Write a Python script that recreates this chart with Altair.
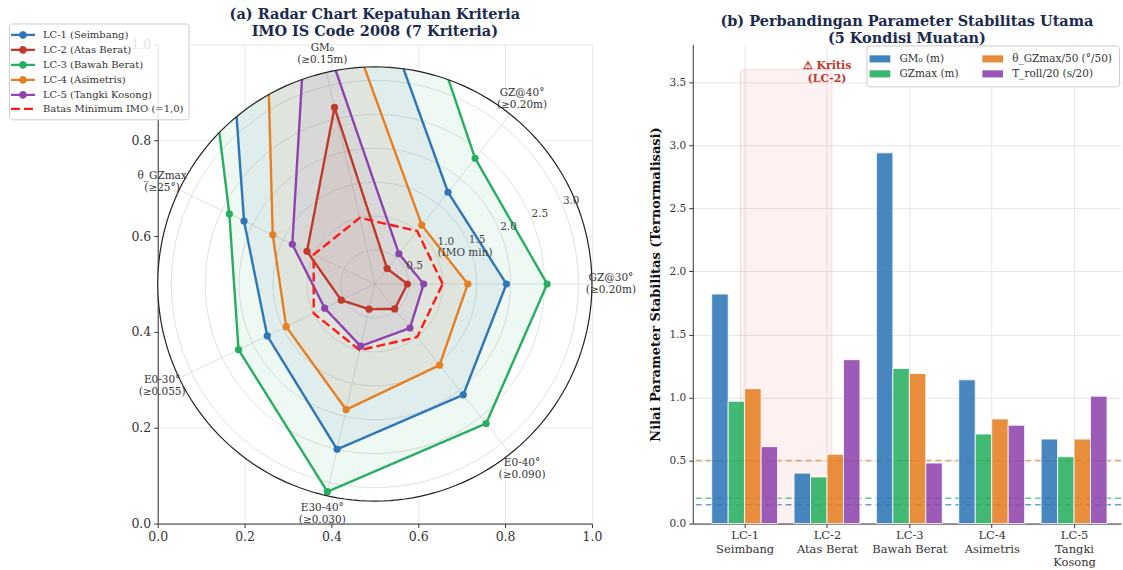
import math
import json
import altair as alt
import pandas as pd

# ------------------------------------------------------------------
# DATA
# ------------------------------------------------------------------
# (a) radar: value / IMO criterion (1.0 = minimum), axes in polar order
radar_axes = ["GZ@30°\n(≥0.20m)", "GZ@40°\n(≥0.20m)", "GM₀\n(≥0.15m)", "θ_GZmax\n(≥25°)",
              "E0-30°\n(≥0.055)", "E30-40°\n(≥0.030)", "E0-40°\n(≥0.090)"]
lc_names = ["LC-1 (Seimbang)", "LC-2 (Atas Berat)", "LC-3 (Bawah Berat)",
            "LC-4 (Asimetris)", "LC-5 (Tangki Kosong)"]
lc1_ratio = [1.94, 1.73, 12.13, 2.14, 1.76, 2.50, 2.09]
lc2_ratio = [0.48, 0.29, 2.67, 1.11, 0.55, 0.38, 0.47]
lc3_ratio = [2.54, 2.37, 19.60, 2.38, 2.23, 3.14, 2.63]
lc4_ratio = [1.37, 1.11, 7.60, 1.67, 1.45, 1.90, 1.53]
lc5_ratio = [0.72, 0.57, 4.47, 1.35, 0.82, 0.94, 0.83]
imo_name = "Batas Minimum IMO (=1,0)"
imo_ratio = [1.0, 1.0, 1.0, 1.0, 1.0, 1.0, 1.0]
r_ticks = [0.5, 1.0, 1.5, 2.0, 2.5, 3.0]
r_tick_labels = ["0.5", "1.0\n(IMO min)", "1.5", "2.0", "2.5", "3.0"]
r_limit = 3.2
cart_ticks = [0.0, 0.2, 0.4, 0.6, 0.8, 1.0]

# (b) bars
bar_groups = ["LC-1\nSeimbang", "LC-2\nAtas Berat", "LC-3\nBawah Berat", "LC-4\nAsimetris",
              "LC-5\nTangki\nKosong"]
bar_params = ["GM₀ (m)", "GZmax (m)", "θ_GZmax/50 (°/50)", "T_roll/20 (s/20)"]
gm0_m = [1.82, 0.40, 2.94, 1.14, 0.67]
gzmax_m = [0.97, 0.37, 1.23, 0.71, 0.53]
theta_gzmax_50 = [1.07, 0.55, 1.19, 0.83, 0.67]
t_roll_20 = [0.61, 1.30, 0.48, 0.78, 1.01]
criteria_params = ["GM₀ (m)", "GZmax (m)", "θ_GZmax/50 (°/50)"]
criteria_values = [0.15, 0.20, 0.50]
y_ticks_b = [0.0, 0.5, 1.0, 1.5, 2.0, 2.5, 3.0, 3.5]
critical_group = 1
critical_text = "⚠ Kritis\n(LC-2)"
critical_span = [-0.05, 1.06]
critical_top = 3.60
critical_text_y = 3.575

# ------------------------------------------------------------------
# STYLE / LAYOUT
# ------------------------------------------------------------------
FONT = "DejaVu Serif"
TITLE_COLOR = "#1B2A4E"
TXT = "#333333"
LC_COLORS = ["#2E75B6", "#C0392B", "#27AE60", "#E67E22", "#8E44AD"]
IMO_COLOR = "#FF1A1A"
PARAM_COLORS = ["#2E75B6", "#27AE60", "#E67E22", "#8E44AD"]
GRID = "#e6e6e6"
POLAR_GRID = "#d9d9d9"

W1, H1 = 435, 480
W2, H2 = 429, 480
ASPECT = W1 / H1
N_AX = len(radar_axes)
TAU = 2 * math.pi
BAR_W = 0.2
CIRCLE_STEPS = 180


def axis_angle(k):
    return TAU * k / N_AX


def to_plot(px, py):
    return 0.5 + 0.5 * px / r_limit, 0.5 + 0.5 * ASPECT * py / r_limit


def same(p, q, eps=1e-6):
    return abs(p[0] - q[0]) < eps and abs(p[1] - q[1]) < eps


def clip_pieces(values):
    verts = [(v * math.cos(axis_angle(k)), v * math.sin(axis_angle(k))) for k, v in enumerate(values)]
    verts.append(verts[0])
    pieces, cur = [], []
    for i in range(N_AX):
        (ax_, ay_), (bx, by) = verts[i], verts[i + 1]
        dx, dy = bx - ax_, by - ay_
        a = dx * dx + dy * dy
        b = 2 * (ax_ * dx + ay_ * dy)
        c = ax_ * ax_ + ay_ * ay_ - r_limit ** 2
        disc = b * b - 4 * a * c
        lo, hi = 1.0, 0.0
        if disc > 0:
            s = math.sqrt(disc)
            lo = max(0.0, (-b - s) / (2 * a))
            hi = min(1.0, (-b + s) / (2 * a))
        if lo >= hi:
            if cur:
                pieces.append(cur)
                cur = []
            continue
        if lo > 1e-9 or not cur:
            if cur:
                pieces.append(cur)
            cur = [(ax_ + lo * dx, ay_ + lo * dy)]
        cur.append((ax_ + hi * dx, ay_ + hi * dy))
        if hi < 1 - 1e-9:
            pieces.append(cur)
            cur = []
    if cur:
        pieces.append(cur)
    if len(pieces) > 1 and same(pieces[-1][-1], pieces[0][0]):
        pieces[0] = pieces[-1] + pieces[0][1:]
        pieces.pop()
    return pieces


def fill_outline(pieces):
    pts = []
    n = len(pieces)
    for i, piece in enumerate(pieces):
        pts.extend(piece)
        nxt = pieces[(i + 1) % n]
        if not same(piece[-1], nxt[0]):
            a0 = math.atan2(piece[-1][1], piece[-1][0])
            a1 = math.atan2(nxt[0][1], nxt[0][0])
            while a1 <= a0:
                a1 += TAU
            steps = 48
            for s in range(1, steps):
                t = a0 + (a1 - a0) * s / steps
                pts.append((r_limit * math.cos(t), r_limit * math.sin(t)))
    return pts


def circle_rows(r, key):
    rows = []
    for s in range(CIRCLE_STEPS + 1):
        t = TAU * s / CIRCLE_STEPS
        x, y = to_plot(r * math.cos(t), r * math.sin(t))
        rows.append({"ring": key, "o": s, "x": x, "y": y})
    return rows


all_series = list(zip(lc_names, [lc1_ratio, lc2_ratio, lc3_ratio, lc4_ratio, lc5_ratio]))

fill_rows, line_rows, pt_rows = [], [], []
for name, vals in all_series:
    pcs = clip_pieces(vals)
    for o, (px, py) in enumerate(fill_outline(pcs)):
        x, y = to_plot(px, py)
        fill_rows.append({"series": name, "o": o, "x": x, "y": y})
    for pi, pc in enumerate(pcs):
        for o, (px, py) in enumerate(pc):
            x, y = to_plot(px, py)
            line_rows.append({"series": name, "seg": f"{name}-{pi}", "o": o, "x": x, "y": y})
    for k, v in enumerate(vals):
        if v <= r_limit:
            x, y = to_plot(v * math.cos(axis_angle(k)), v * math.sin(axis_angle(k)))
            pt_rows.append({"series": name, "x": x, "y": y})

for pi, pc in enumerate(clip_pieces(imo_ratio)):
    for o, (px, py) in enumerate(pc):
        x, y = to_plot(px, py)
        line_rows.append({"series": imo_name, "seg": f"imo-{pi}", "o": o, "x": x, "y": y})

fill_df = pd.DataFrame(fill_rows)
line_df = pd.DataFrame(line_rows)
pt_df = pd.DataFrame(pt_rows)

ring_rows = []
for r in r_ticks:
    ring_rows += circle_rows(r, str(r))
ring_df = pd.DataFrame(ring_rows)
edge_df = pd.DataFrame(circle_rows(r_limit, "edge"))

spoke_rows = []
for k in range(N_AX):
    x0, y0 = to_plot(0, 0)
    x1, y1 = to_plot(r_limit * math.cos(axis_angle(k)), r_limit * math.sin(axis_angle(k)))
    spoke_rows.append({"x0": x0, "y0": y0, "x1": x1, "y1": y1})
spoke_df = pd.DataFrame(spoke_rows)

LABEL_R = 3.48
cat_rows = []
for k, lab in enumerate(radar_axes):
    x, y = to_plot(LABEL_R * math.cos(axis_angle(k)), LABEL_R * math.sin(axis_angle(k)))
    cat_rows.append({"label": lab, "x": x, "y": y})
cat_df = pd.DataFrame(cat_rows)

RLABEL_ANGLE = math.pi / 8
rl_rows = []
for r, lab in zip(r_ticks, r_tick_labels):
    x, y = to_plot(r * math.cos(RLABEL_ANGLE), r * math.sin(RLABEL_ANGLE))
    rl_rows.append({"label": lab, "x": x, "y": y, "lines": lab.count("\n") + 1})
rl_df = pd.DataFrame(rl_rows)

cx, cy = to_plot(0, 0)
key_df = pd.DataFrame({"series": lc_names + [imo_name], "x": cx, "y": cy})

# ------------------------------------------------------------------
# (a) RADAR
# ------------------------------------------------------------------
xs1 = alt.Scale(domain=[0, 1], nice=False, zero=False)
ys1 = alt.Scale(domain=[0, 1], nice=False, zero=False)

lc_domain = lc_names + [imo_name]
lc_range = LC_COLORS + [IMO_COLOR]
dash_range = [[1, 0]] * len(lc_names) + [[9, 4]]

LINE_PATH = "M-2.4,0L2.4,0"
LINE_DOT_PATH = ("M-2.4,0L2.4,0"
                 "M0.54,0A0.54,0.54,0,1,1,-0.54,0A0.54,0.54,0,1,1,0.54,0"
                 "M0.27,0A0.27,0.27,0,1,1,-0.27,0A0.27,0.27,0,1,1,0.27,0"
                 "M0.05,0A0.05,0.05,0,1,1,-0.05,0A0.05,0.05,0,1,1,0.05,0")
shape_range = [LINE_DOT_PATH] * len(lc_names) + [LINE_PATH]

legend_a = alt.Legend(
    title=None, orient="none", legendX=-149, legendY=-21,
    symbolType=LINE_DOT_PATH, symbolSize=100, symbolStrokeWidth=2.3, symbolOffset=2.5,
    symbolOpacity=1,
    labelFont=FONT, labelFontSize=10, labelColor=TXT, labelOffset=13.5, labelLimit=400,
    rowPadding=0, padding=5, fillColor="rgba(255,255,255,0.85)", strokeColor="#cccccc",
    cornerRadius=3,
)

cart_axis_x = alt.Axis(values=cart_ticks, format=".1f", title=None, grid=True, gridColor=GRID,
                       domainColor=TXT, tickColor=TXT, labelColor=TXT, labelFontSize=12.5,
                       tickSize=4, labelPadding=3, labelFlush=False)
cart_axis_y = alt.Axis(values=cart_ticks, format=".1f", title=None, grid=True, gridColor=GRID,
                       domainColor=TXT, tickColor=TXT, labelColor=TXT, labelFontSize=12.5,
                       tickSize=4, labelPadding=3, labelFlush=False)

disc = alt.Chart(edge_df).mark_line(fill="white", strokeOpacity=0).encode(
    x=alt.X("x:Q", scale=xs1, axis=cart_axis_x),
    y=alt.Y("y:Q", scale=ys1, axis=cart_axis_y),
    order="o:Q")

rings = alt.Chart(ring_df).mark_line(color=POLAR_GRID, strokeWidth=0.8).encode(
    x=alt.X("x:Q", scale=xs1), y=alt.Y("y:Q", scale=ys1), order="o:Q", detail="ring:N")

spokes = alt.Chart(spoke_df).mark_rule(color=POLAR_GRID, strokeWidth=0.8).encode(
    x=alt.X("x0:Q", scale=xs1), y=alt.Y("y0:Q", scale=ys1), x2="x1:Q", y2="y1:Q")

fill_scale = alt.Scale(domain=lc_names, range=LC_COLORS)

fills = alt.Chart(fill_df).mark_line(strokeOpacity=0, fillOpacity=0.08).encode(
    x=alt.X("x:Q", scale=xs1), y=alt.Y("y:Q", scale=ys1),
    order="o:Q", detail="series:N",
    fill=alt.Fill("series:N", scale=fill_scale, legend=None))

lines = alt.Chart(line_df).mark_line(strokeWidth=2.4).encode(
    x=alt.X("x:Q", scale=xs1), y=alt.Y("y:Q", scale=ys1),
    order="o:Q", detail="seg:N",
    color=alt.Color("series:N", scale=alt.Scale(domain=lc_domain, range=lc_range), legend=legend_a),
    strokeDash=alt.StrokeDash("series:N", scale=alt.Scale(domain=lc_domain, range=dash_range),
                              legend=legend_a))

# invisible carrier so that the legend shows line+marker for LC series and a plain dashed line for IMO
legend_key = alt.Chart(key_df).mark_point(opacity=0).encode(
    x=alt.X("x:Q", scale=xs1), y=alt.Y("y:Q", scale=ys1),
    color=alt.Color("series:N", scale=alt.Scale(domain=lc_domain, range=lc_range), legend=legend_a),
    shape=alt.Shape("series:N", scale=alt.Scale(domain=lc_domain, range=shape_range),
                    legend=legend_a))

points = alt.Chart(pt_df).mark_circle(size=52, opacity=1).encode(
    x=alt.X("x:Q", scale=xs1), y=alt.Y("y:Q", scale=ys1),
    fill=alt.Fill("series:N", scale=fill_scale, legend=None))

edge = alt.Chart(edge_df).mark_line(color="#222222", strokeWidth=1.2).encode(
    x=alt.X("x:Q", scale=xs1), y=alt.Y("y:Q", scale=ys1), order="o:Q")

rlabels1 = alt.Chart(rl_df).transform_filter("datum.lines == 1").mark_text(
    align="left", baseline="bottom", fontSize=10.5, color="#444444").encode(
    x=alt.X("x:Q", scale=xs1), y=alt.Y("y:Q", scale=ys1), text="label:N")

rlabels2 = alt.Chart(rl_df).transform_filter("datum.lines == 2").mark_text(
    align="left", baseline="bottom", fontSize=10.5, color="#444444", lineBreak="\n",
    lineHeight=11, dy=-11).encode(
    x=alt.X("x:Q", scale=xs1), y=alt.Y("y:Q", scale=ys1), text="label:N")

clabels = alt.Chart(cat_df).mark_text(align="center", baseline="middle", fontSize=10.5,
                                      color=TXT, lineBreak="\n", lineHeight=12, dy=-6).encode(
    x=alt.X("x:Q", scale=xs1), y=alt.Y("y:Q", scale=ys1), text="label:N")

left = alt.layer(disc, rings, spokes, fills, lines, legend_key, points, edge, rlabels1, rlabels2,
                 clabels).properties(
    width=W1, height=H1,
    title=alt.TitleParams(["(a) Radar Chart Kepatuhan Kriteria", "IMO IS Code 2008 (7 Kriteria)"],
                          fontSize=14.5, fontWeight="bold", color=TITLE_COLOR, anchor="middle",
                          frame="group", offset=-17, lineHeight=17),
)

# ------------------------------------------------------------------
# (b) BARS
# ------------------------------------------------------------------
param_values = [gm0_m, gzmax_m, theta_gzmax_50, t_roll_20]
bar_rows = []
for i in range(len(bar_groups)):
    for j, (p, vals) in enumerate(zip(bar_params, param_values)):
        c = i + (j - (len(bar_params) - 1) / 2) * BAR_W
        bar_rows.append({"param": p, "x0": c - BAR_W / 2, "x1": c + BAR_W / 2, "v": vals[i]})
bar_df = pd.DataFrame(bar_rows)
crit_df = pd.DataFrame({"param": criteria_params, "v": criteria_values})
span_df = pd.DataFrame({"x0": [critical_span[0]], "x1": [critical_span[1]],
                        "y0": [0.0], "y1": [critical_top]})
ktext_df = pd.DataFrame({"x": [critical_group], "y": [critical_text_y], "t": [critical_text]})

xs2 = alt.Scale(domain=[-0.63, 4.57], nice=False, zero=False)
ys2 = alt.Scale(domain=[0, 3.80], nice=False, zero=True)

RECT_PATH = "M-1.6,-0.55L1.6,-0.55L1.6,0.55L-1.6,0.55Z"
legend_b = alt.Legend(
    title=None, orient="none", legendX=174, legendY=1, columns=2, columnPadding=23,
    symbolType=RECT_PATH, symbolSize=169, symbolOffset=0, symbolStrokeWidth=0,
    symbolOpacity=0.9, labelFont=FONT, labelFontSize=10.5, labelColor=TXT, labelOffset=13,
    rowPadding=3, padding=7, fillColor="rgba(255,255,255,0.85)", strokeColor="#cccccc",
    cornerRadius=3, labelLimit=300)

label_expr = f"split({json.dumps(bar_groups)}[datum.value], '\\n')"

span = alt.Chart(span_df).mark_rect(fill="#E74C3C", fillOpacity=0.07, stroke="#E74C3C",
                                    strokeOpacity=0.18, strokeWidth=1, cornerRadius=3).encode(
    x=alt.X("x0:Q", scale=xs2), x2="x1:Q", y=alt.Y("y0:Q", scale=ys2), y2="y1:Q")

crit = alt.Chart(crit_df).mark_rule(strokeDash=[6, 4], strokeWidth=1.5, opacity=0.7).encode(
    y=alt.Y("v:Q", scale=ys2),
    stroke=alt.Stroke("param:N",
                      scale=alt.Scale(domain=criteria_params,
                                      range=PARAM_COLORS[:len(criteria_params)]),
                      legend=None))

bars = alt.Chart(bar_df).mark_rect(stroke="white", strokeWidth=0.8, fillOpacity=0.88).encode(
    x=alt.X("x0:Q", scale=xs2,
            axis=alt.Axis(values=list(range(len(bar_groups))), labelExpr=label_expr, title=None,
                          grid=True, gridColor=GRID, domainColor=TXT, tickColor=TXT,
                          labelColor=TXT, labelFontSize=11.5, labelLineHeight=13.5,
                          tickSize=4, labelPadding=2, labelFlush=False)),
    x2="x1:Q",
    y=alt.Y("v:Q", scale=ys2,
            axis=alt.Axis(values=y_ticks_b, format=".1f",
                          title="Nilai Parameter Stabilitas (Ternormalisasi)",
                          titleFontSize=13, titleFontWeight="bold", titleColor="#111111",
                          titlePadding=7, grid=True, gridColor=GRID, domainColor=TXT,
                          tickColor=TXT, labelColor=TXT, labelFontSize=10.5, tickSize=4,
                          labelPadding=3)),
    y2=alt.Y2(datum=0),
    color=alt.Color("param:N", scale=alt.Scale(domain=bar_params, range=PARAM_COLORS),
                    legend=legend_b))

ktext = alt.Chart(ktext_df).mark_text(color="#C0392B", fontWeight="bold", fontSize=11,
                                      lineBreak="\n", baseline="middle", align="center",
                                      lineHeight=13, dy=-6.5).encode(
    x=alt.X("x:Q", scale=xs2), y=alt.Y("y:Q", scale=ys2), text="t:N")

right = alt.layer(span, crit, bars, ktext).properties(
    width=W2, height=H2,
    title=alt.TitleParams(["(b) Perbandingan Parameter Stabilitas Utama", "(5 Kondisi Muatan)"],
                          fontSize=14.5, fontWeight="bold", color=TITLE_COLOR, anchor="middle",
                          frame="group", offset=-2, lineHeight=17),
)

chart = alt.hconcat(left, right, spacing=101, bounds="flush").resolve_scale(
    color="independent", fill="independent", stroke="independent", shape="independent",
    strokeDash="independent", x="independent", y="independent"
).resolve_legend(
    color="independent", fill="independent", stroke="independent", shape="independent",
    strokeDash="independent"
).properties(
    padding={"left": 8, "top": 7, "right": 1, "bottom": 0}
).configure(font=FONT).configure_view(stroke=None)

chart.save("out.html", embed_options={"renderer": "svg", "actions": False})
